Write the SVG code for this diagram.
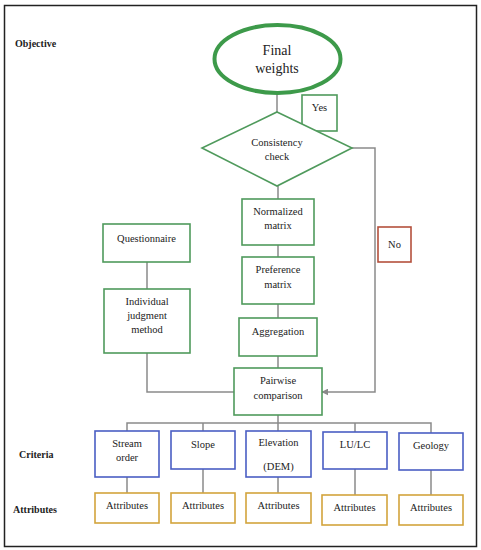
<svg xmlns="http://www.w3.org/2000/svg" width="481" height="550" viewBox="0 0 481 550" font-family="'Liberation Serif', 'Times New Roman', 'DejaVu Serif', serif">
<defs>
<style>
text{font-family:"Liberation Serif","Times New Roman","DejaVu Serif",serif;fill:#222;text-anchor:middle}
.t{font-size:10.5px}
.lbl{font-size:10px;font-weight:bold;text-anchor:start}
.g{fill:#fff;stroke:#4f9a5c;stroke-width:1.6}
.b{fill:#fff;stroke:#4a5ec4;stroke-width:1.6}
.y{fill:#fff;stroke:#d3a43c;stroke-width:1.6}
.c{fill:none;stroke:#8a8a8a;stroke-width:1.5}
</style>
<marker id="arr" viewBox="0 0 10 10" refX="9" refY="5" markerWidth="7" markerHeight="7" orient="auto" markerUnits="userSpaceOnUse">
<path d="M0,0 L10,5 L0,10 z" fill="#8a8a8a"/>
</marker>
</defs>
<rect x="4.5" y="5.5" width="472" height="541" fill="#fff" stroke="#222" stroke-width="1.5"/>
<text class="lbl" x="15" y="47">Objective</text>
<text class="lbl" x="19" y="458">Criteria</text>
<text class="lbl" x="13" y="513">Attributes</text>
<g id="connectors">
<path class="c" d="M277,94 V112"/>
<path class="c" d="M278,186 V199"/>
<path class="c" d="M278,245 V257"/>
<path class="c" d="M278,304 V318"/>
<path class="c" d="M278,356 V368"/>
<path class="c" d="M147,262 V289"/>
<path class="c" d="M147,353 V392 H234"/>
<path class="c" d="M352,148 H375 V392 H322" marker-end="url(#arr)"/>
<path class="c" d="M278,415 V423"/>
<path class="c" d="M127,431 V423 H431 V433"/>
<path class="c" d="M203,423 V431"/>
<path class="c" d="M278,423 V431"/>
<path class="c" d="M355,423 V432"/>
<path class="c" d="M127,477 V493"/>
<path class="c" d="M203,469 V493"/>
<path class="c" d="M278,477 V493"/>
<path class="c" d="M355,469 V495"/>
<path class="c" d="M431,470 V495"/>
</g>
<g id="final">
<ellipse cx="277.5" cy="59" rx="63" ry="34" fill="#fff" stroke="#3d9a4a" stroke-width="4"/>
<text x="277" y="55" style="font-size:14px">Final</text>
<text x="277" y="73" style="font-size:14px">weights</text>
</g>
<g id="yes">
<rect class="g" x="302" y="95" width="35" height="36"/>
<text class="t" x="319.5" y="111">Yes</text>
</g>
<g id="consistency">
<polygon class="g" points="277,112 352,148 277,186 202,148"/>
<text class="t" x="277" y="146">Consistency</text>
<text class="t" x="277" y="160">check</text>
</g>
<g id="no">
<rect x="378" y="227" width="33" height="35" fill="#fff" stroke="#b4503c" stroke-width="1.6"/>
<text class="t" x="394.5" y="248">No</text>
</g>
<g id="normalized">
<rect class="g" x="242" y="199" width="72" height="46"/>
<text class="t" x="278" y="215">Normalized</text>
<text class="t" x="278" y="229">matrix</text>
</g>
<g id="preference">
<rect class="g" x="242" y="257" width="72" height="47"/>
<text class="t" x="278" y="273">Preference</text>
<text class="t" x="278" y="288">matrix</text>
</g>
<g id="aggregation">
<rect class="g" x="239" y="318" width="78" height="38"/>
<text class="t" x="278" y="335">Aggregation</text>
</g>
<g id="pairwise">
<rect class="g" x="234" y="368" width="88" height="47"/>
<text class="t" x="278" y="384">Pairwise</text>
<text class="t" x="278" y="399">comparison</text>
</g>
<g id="questionnaire">
<rect class="g" x="103" y="224" width="87" height="38"/>
<text class="t" x="146.5" y="242">Questionnaire</text>
</g>
<g id="individual">
<rect class="g" x="104" y="289" width="86" height="64"/>
<text class="t" x="147" y="305">Individual</text>
<text class="t" x="147" y="319">judgment</text>
<text class="t" x="147" y="333">method</text>
</g>
<g id="stream">
<rect class="b" x="95" y="431" width="64" height="46"/>
<text class="t" x="127" y="447">Stream</text>
<text class="t" x="127" y="461">order</text>
</g>
<g id="slope">
<rect class="b" x="171" y="431" width="64" height="38"/>
<text class="t" x="203" y="448">Slope</text>
</g>
<g id="elevation">
<rect class="b" x="246" y="431" width="65" height="46"/>
<text class="t" x="278.5" y="446">Elevation</text>
<text class="t" x="278.5" y="470">(DEM)</text>
</g>
<g id="lulc">
<rect class="b" x="323" y="432" width="64" height="37"/>
<text class="t" x="355" y="448">LU/LC</text>
</g>
<g id="geology">
<rect class="b" x="399" y="433" width="64" height="37"/>
<text class="t" x="431" y="449">Geology</text>
</g>
<g id="attr1">
<rect class="y" x="95" y="493" width="64" height="30"/>
<text class="t" x="127" y="509">Attributes</text>
</g>
<g id="attr2">
<rect class="y" x="171" y="493" width="64" height="30"/>
<text class="t" x="203" y="509">Attributes</text>
</g>
<g id="attr3">
<rect class="y" x="246" y="493" width="65" height="30"/>
<text class="t" x="278.5" y="509">Attributes</text>
</g>
<g id="attr4">
<rect class="y" x="322" y="495" width="65" height="30"/>
<text class="t" x="354.5" y="511">Attributes</text>
</g>
<g id="attr5">
<rect class="y" x="399" y="495" width="64" height="30"/>
<text class="t" x="431" y="511">Attributes</text>
</g>
</svg>
